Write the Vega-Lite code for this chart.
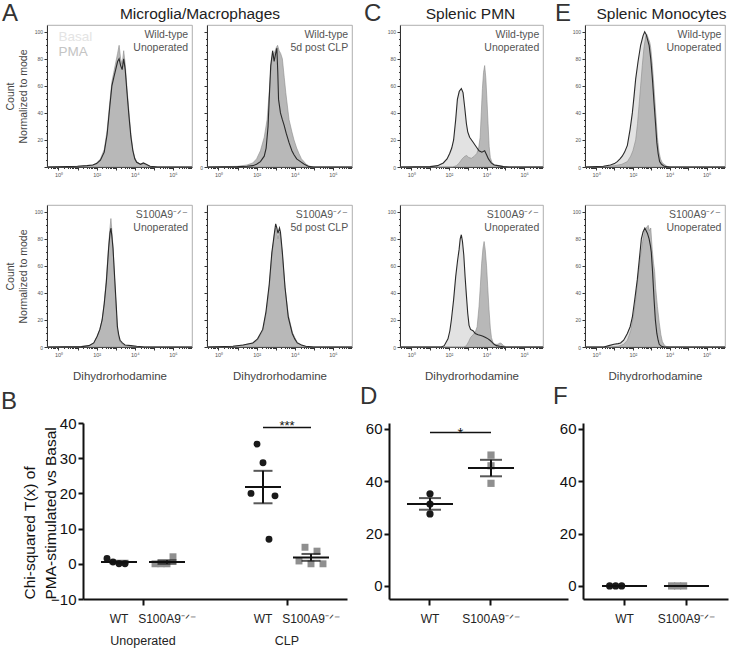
{
"$schema": "https://vega.github.io/schema/vega-lite/v6.json",
"padding": {"left": 1, "top": 1, "right": 2, "bottom": 2},
"bounds": "full",
"spacing": 1,
"config": {
  "font": "Liberation Sans",
  "axis": {"grid": false, "labelFont": "Liberation Sans", "titleFont": "Liberation Sans", "titleFontWeight": "normal"},
  "view": {"stroke": "#9a9a9a", "strokeWidth": 0.8},
  "title": {"font": "Liberation Sans", "fontWeight": "normal", "color": "#333"},
  "text": {"font": "Liberation Sans"}
},
"datasets": {
"ann": [
  {"p":"A1","t":"Wild-type\nUnoperated"},
  {"p":"A2","t":"Wild-type\n5d post CLP"},
  {"p":"C1","t":"Wild-type\nUnoperated"},
  {"p":"E1","t":"Wild-type\nUnoperated"},
  {"p":"A3","t":"S100A9⁻ᐟ⁻\nUnoperated"},
  {"p":"A4","t":"S100A9⁻ᐟ⁻\n5d post CLP"},
  {"p":"C2","t":"S100A9⁻ᐟ⁻\nUnoperated"},
  {"p":"E2","t":"S100A9⁻ᐟ⁻\nUnoperated"}
],
"leg": [{"s":"B","t":"Basal"},{"s":"P","t":"PMA"}],
"dots": [
  {"panel":"B","grp":"U-WT","geno":"WT","rep":1,"v":1.5},
  {"panel":"B","grp":"U-WT","geno":"WT","rep":2,"v":0.5},
  {"panel":"B","grp":"U-WT","geno":"WT","rep":3,"v":0},
  {"panel":"B","grp":"U-WT","geno":"WT","rep":4,"v":0},
  {"panel":"B","grp":"U-KO","geno":"KO","rep":1,"v":0},
  {"panel":"B","grp":"U-KO","geno":"KO","rep":2,"v":0},
  {"panel":"B","grp":"U-KO","geno":"KO","rep":3,"v":0},
  {"panel":"B","grp":"U-KO","geno":"KO","rep":4,"v":2},
  {"panel":"B","grp":"CLP-WT","geno":"WT","rep":1,"v":20},
  {"panel":"B","grp":"CLP-WT","geno":"WT","rep":2,"v":34},
  {"panel":"B","grp":"CLP-WT","geno":"WT","rep":3,"v":28.7},
  {"panel":"B","grp":"CLP-WT","geno":"WT","rep":4,"v":7},
  {"panel":"B","grp":"CLP-WT","geno":"WT","rep":5,"v":19.3},
  {"panel":"B","grp":"CLP-KO","geno":"KO","rep":1,"v":0.8},
  {"panel":"B","grp":"CLP-KO","geno":"KO","rep":2,"v":4.7},
  {"panel":"B","grp":"CLP-KO","geno":"KO","rep":3,"v":0},
  {"panel":"B","grp":"CLP-KO","geno":"KO","rep":4,"v":3.6},
  {"panel":"B","grp":"CLP-KO","geno":"KO","rep":5,"v":0},
  {"panel":"D","grp":"WT","geno":"WT","rep":1,"v":27.5},
  {"panel":"D","grp":"WT","geno":"WT","rep":2,"v":35.2},
  {"panel":"D","grp":"WT","geno":"WT","rep":3,"v":31.3},
  {"panel":"D","grp":"KO","geno":"KO","rep":1,"v":50},
  {"panel":"D","grp":"KO","geno":"KO","rep":2,"v":45.9},
  {"panel":"D","grp":"KO","geno":"KO","rep":3,"v":39.2},
  {"panel":"F","grp":"WT","geno":"WT","rep":1,"v":0},
  {"panel":"F","grp":"WT","geno":"WT","rep":2,"v":0},
  {"panel":"F","grp":"WT","geno":"WT","rep":3,"v":0},
  {"panel":"F","grp":"KO","geno":"KO","rep":1,"v":0},
  {"panel":"F","grp":"KO","geno":"KO","rep":2,"v":0},
  {"panel":"F","grp":"KO","geno":"KO","rep":3,"v":0}
],
"sig": [
  {"panel":"B","from":"CLP-WT","to":"CLP-KO","mid":"CLP","sig":"***"},
  {"panel":"D","from":"WT","to":"KO","mid":"WT","sig":"*"}
],
"hist": [
{"p":"A1","s":"B","x":-0.6,"y":0},{"p":"A1","s":"B","x":0.5,"y":0.3},{"p":"A1","s":"B","x":1.0,"y":0.5},{"p":"A1","s":"B","x":1.5,"y":1},{"p":"A1","s":"B","x":1.8,"y":1.5},{"p":"A1","s":"B","x":2.0,"y":2.5},{"p":"A1","s":"B","x":2.2,"y":5},{"p":"A1","s":"B","x":2.4,"y":11},{"p":"A1","s":"B","x":2.55,"y":24},{"p":"A1","s":"B","x":2.7,"y":46},{"p":"A1","s":"B","x":2.8,"y":60},{"p":"A1","s":"B","x":2.9,"y":66},{"p":"A1","s":"B","x":3.0,"y":72},{"p":"A1","s":"B","x":3.1,"y":78},{"p":"A1","s":"B","x":3.18,"y":80},{"p":"A1","s":"B","x":3.26,"y":75},{"p":"A1","s":"B","x":3.34,"y":72},{"p":"A1","s":"B","x":3.42,"y":80},{"p":"A1","s":"B","x":3.5,"y":72},{"p":"A1","s":"B","x":3.6,"y":54},{"p":"A1","s":"B","x":3.7,"y":37},{"p":"A1","s":"B","x":3.8,"y":22},{"p":"A1","s":"B","x":3.9,"y":12},{"p":"A1","s":"B","x":4.0,"y":6},{"p":"A1","s":"B","x":4.1,"y":3.5},{"p":"A1","s":"B","x":4.3,"y":2},{"p":"A1","s":"B","x":4.45,"y":3},{"p":"A1","s":"B","x":4.6,"y":2},{"p":"A1","s":"B","x":4.8,"y":0.5},{"p":"A1","s":"B","x":5.2,"y":0},{"p":"A1","s":"B","x":7,"y":0},
{"p":"A1","s":"P","x":-0.6,"y":0},{"p":"A1","s":"P","x":0.5,"y":0.3},{"p":"A1","s":"P","x":1.0,"y":0.5},{"p":"A1","s":"P","x":1.5,"y":1},{"p":"A1","s":"P","x":1.8,"y":1.5},{"p":"A1","s":"P","x":2.0,"y":3},{"p":"A1","s":"P","x":2.2,"y":6},{"p":"A1","s":"P","x":2.4,"y":13},{"p":"A1","s":"P","x":2.55,"y":27},{"p":"A1","s":"P","x":2.7,"y":49},{"p":"A1","s":"P","x":2.8,"y":63},{"p":"A1","s":"P","x":2.9,"y":70},{"p":"A1","s":"P","x":3.0,"y":77},{"p":"A1","s":"P","x":3.1,"y":84},{"p":"A1","s":"P","x":3.18,"y":90},{"p":"A1","s":"P","x":3.26,"y":80},{"p":"A1","s":"P","x":3.34,"y":76},{"p":"A1","s":"P","x":3.42,"y":86},{"p":"A1","s":"P","x":3.5,"y":76},{"p":"A1","s":"P","x":3.6,"y":57},{"p":"A1","s":"P","x":3.7,"y":40},{"p":"A1","s":"P","x":3.8,"y":24},{"p":"A1","s":"P","x":3.9,"y":13},{"p":"A1","s":"P","x":4.0,"y":7},{"p":"A1","s":"P","x":4.1,"y":4},{"p":"A1","s":"P","x":4.3,"y":2},{"p":"A1","s":"P","x":4.45,"y":2.5},{"p":"A1","s":"P","x":4.6,"y":1.5},{"p":"A1","s":"P","x":4.8,"y":0.5},{"p":"A1","s":"P","x":5.2,"y":0},{"p":"A1","s":"P","x":7,"y":0},
{"p":"A2","s":"B","x":-0.6,"y":0},{"p":"A2","s":"B","x":1.0,"y":0.3},{"p":"A2","s":"B","x":1.5,"y":0.6},{"p":"A2","s":"B","x":1.8,"y":1},{"p":"A2","s":"B","x":2.0,"y":2},{"p":"A2","s":"B","x":2.2,"y":4},{"p":"A2","s":"B","x":2.4,"y":8},{"p":"A2","s":"B","x":2.5,"y":14},{"p":"A2","s":"B","x":2.6,"y":30},{"p":"A2","s":"B","x":2.66,"y":50},{"p":"A2","s":"B","x":2.74,"y":75},{"p":"A2","s":"B","x":2.84,"y":86},{"p":"A2","s":"B","x":2.92,"y":78},{"p":"A2","s":"B","x":3.0,"y":84},{"p":"A2","s":"B","x":3.06,"y":88},{"p":"A2","s":"B","x":3.11,"y":70},{"p":"A2","s":"B","x":3.15,"y":50},{"p":"A2","s":"B","x":3.25,"y":40},{"p":"A2","s":"B","x":3.35,"y":35},{"p":"A2","s":"B","x":3.44,"y":31},{"p":"A2","s":"B","x":3.55,"y":25},{"p":"A2","s":"B","x":3.7,"y":18},{"p":"A2","s":"B","x":3.85,"y":12},{"p":"A2","s":"B","x":3.96,"y":9},{"p":"A2","s":"B","x":4.1,"y":6},{"p":"A2","s":"B","x":4.3,"y":4},{"p":"A2","s":"B","x":4.5,"y":2},{"p":"A2","s":"B","x":4.7,"y":0.5},{"p":"A2","s":"B","x":5.0,"y":0},{"p":"A2","s":"B","x":7,"y":0},
{"p":"A2","s":"P","x":-0.6,"y":0},{"p":"A2","s":"P","x":1.0,"y":0.5},{"p":"A2","s":"P","x":1.5,"y":1.5},{"p":"A2","s":"P","x":1.8,"y":3},{"p":"A2","s":"P","x":2.0,"y":6},{"p":"A2","s":"P","x":2.2,"y":12},{"p":"A2","s":"P","x":2.4,"y":22},{"p":"A2","s":"P","x":2.55,"y":35},{"p":"A2","s":"P","x":2.66,"y":55},{"p":"A2","s":"P","x":2.74,"y":70},{"p":"A2","s":"P","x":2.8,"y":80},{"p":"A2","s":"P","x":2.88,"y":84},{"p":"A2","s":"P","x":2.95,"y":85},{"p":"A2","s":"P","x":3.02,"y":88},{"p":"A2","s":"P","x":3.1,"y":90},{"p":"A2","s":"P","x":3.18,"y":86},{"p":"A2","s":"P","x":3.26,"y":84},{"p":"A2","s":"P","x":3.35,"y":80},{"p":"A2","s":"P","x":3.45,"y":66},{"p":"A2","s":"P","x":3.53,"y":55},{"p":"A2","s":"P","x":3.7,"y":35},{"p":"A2","s":"P","x":3.85,"y":26},{"p":"A2","s":"P","x":3.96,"y":20},{"p":"A2","s":"P","x":4.1,"y":14},{"p":"A2","s":"P","x":4.22,"y":10},{"p":"A2","s":"P","x":4.35,"y":6},{"p":"A2","s":"P","x":4.48,"y":4},{"p":"A2","s":"P","x":4.6,"y":2},{"p":"A2","s":"P","x":4.74,"y":1},{"p":"A2","s":"P","x":4.9,"y":0},{"p":"A2","s":"P","x":7,"y":0},
{"p":"C1","s":"B","x":-0.6,"y":0},{"p":"C1","s":"B","x":1.0,"y":0.3},{"p":"C1","s":"B","x":1.4,"y":1},{"p":"C1","s":"B","x":1.7,"y":3},{"p":"C1","s":"B","x":1.9,"y":6},{"p":"C1","s":"B","x":2.04,"y":10},{"p":"C1","s":"B","x":2.15,"y":14},{"p":"C1","s":"B","x":2.25,"y":20},{"p":"C1","s":"B","x":2.36,"y":35},{"p":"C1","s":"B","x":2.45,"y":50},{"p":"C1","s":"B","x":2.55,"y":56},{"p":"C1","s":"B","x":2.66,"y":58},{"p":"C1","s":"B","x":2.75,"y":55},{"p":"C1","s":"B","x":2.84,"y":44},{"p":"C1","s":"B","x":2.93,"y":32},{"p":"C1","s":"B","x":3.0,"y":26},{"p":"C1","s":"B","x":3.1,"y":22},{"p":"C1","s":"B","x":3.25,"y":19},{"p":"C1","s":"B","x":3.45,"y":15},{"p":"C1","s":"B","x":3.6,"y":12},{"p":"C1","s":"B","x":3.75,"y":11},{"p":"C1","s":"B","x":3.9,"y":12},{"p":"C1","s":"B","x":4.0,"y":9},{"p":"C1","s":"B","x":4.1,"y":6},{"p":"C1","s":"B","x":4.25,"y":3},{"p":"C1","s":"B","x":4.4,"y":1.5},{"p":"C1","s":"B","x":4.6,"y":1},{"p":"C1","s":"B","x":4.9,"y":0.3},{"p":"C1","s":"B","x":5.2,"y":0},{"p":"C1","s":"B","x":7,"y":0},
{"p":"C1","s":"P","x":-0.6,"y":0},{"p":"C1","s":"P","x":2.2,"y":0},{"p":"C1","s":"P","x":2.4,"y":1},{"p":"C1","s":"P","x":2.55,"y":3},{"p":"C1","s":"P","x":2.7,"y":6},{"p":"C1","s":"P","x":2.85,"y":8},{"p":"C1","s":"P","x":2.95,"y":8.5},{"p":"C1","s":"P","x":3.05,"y":7},{"p":"C1","s":"P","x":3.2,"y":6.5},{"p":"C1","s":"P","x":3.35,"y":8},{"p":"C1","s":"P","x":3.48,"y":10},{"p":"C1","s":"P","x":3.58,"y":14},{"p":"C1","s":"P","x":3.66,"y":22},{"p":"C1","s":"P","x":3.72,"y":40},{"p":"C1","s":"P","x":3.78,"y":58},{"p":"C1","s":"P","x":3.84,"y":70},{"p":"C1","s":"P","x":3.9,"y":75},{"p":"C1","s":"P","x":3.96,"y":66},{"p":"C1","s":"P","x":4.02,"y":50},{"p":"C1","s":"P","x":4.08,"y":32},{"p":"C1","s":"P","x":4.14,"y":15},{"p":"C1","s":"P","x":4.2,"y":7},{"p":"C1","s":"P","x":4.3,"y":3},{"p":"C1","s":"P","x":4.45,"y":1.5},{"p":"C1","s":"P","x":4.7,"y":1},{"p":"C1","s":"P","x":4.9,"y":0.3},{"p":"C1","s":"P","x":5.1,"y":0},{"p":"C1","s":"P","x":7,"y":0},
{"p":"E1","s":"B","x":-0.6,"y":0},{"p":"E1","s":"B","x":0.4,"y":0.5},{"p":"E1","s":"B","x":0.78,"y":1.5},{"p":"E1","s":"B","x":1.0,"y":2.5},{"p":"E1","s":"B","x":1.15,"y":4},{"p":"E1","s":"B","x":1.3,"y":6},{"p":"E1","s":"B","x":1.42,"y":8},{"p":"E1","s":"B","x":1.55,"y":11},{"p":"E1","s":"B","x":1.7,"y":16},{"p":"E1","s":"B","x":1.85,"y":28},{"p":"E1","s":"B","x":1.97,"y":40},{"p":"E1","s":"B","x":2.06,"y":52},{"p":"E1","s":"B","x":2.15,"y":65},{"p":"E1","s":"B","x":2.28,"y":78},{"p":"E1","s":"B","x":2.42,"y":90},{"p":"E1","s":"B","x":2.55,"y":97},{"p":"E1","s":"B","x":2.64,"y":100},{"p":"E1","s":"B","x":2.72,"y":98},{"p":"E1","s":"B","x":2.8,"y":94},{"p":"E1","s":"B","x":2.88,"y":90},{"p":"E1","s":"B","x":2.97,"y":80},{"p":"E1","s":"B","x":3.06,"y":65},{"p":"E1","s":"B","x":3.15,"y":47},{"p":"E1","s":"B","x":3.24,"y":30},{"p":"E1","s":"B","x":3.3,"y":18},{"p":"E1","s":"B","x":3.37,"y":10},{"p":"E1","s":"B","x":3.45,"y":4},{"p":"E1","s":"B","x":3.55,"y":2},{"p":"E1","s":"B","x":3.7,"y":0.5},{"p":"E1","s":"B","x":4.0,"y":0},{"p":"E1","s":"B","x":7,"y":0},
{"p":"E1","s":"P","x":-0.6,"y":0},{"p":"E1","s":"P","x":0.6,"y":0.5},{"p":"E1","s":"P","x":1.0,"y":1},{"p":"E1","s":"P","x":1.4,"y":2},{"p":"E1","s":"P","x":1.7,"y":4},{"p":"E1","s":"P","x":1.88,"y":8},{"p":"E1","s":"P","x":2.0,"y":12},{"p":"E1","s":"P","x":2.15,"y":20},{"p":"E1","s":"P","x":2.25,"y":32},{"p":"E1","s":"P","x":2.33,"y":45},{"p":"E1","s":"P","x":2.42,"y":60},{"p":"E1","s":"P","x":2.51,"y":75},{"p":"E1","s":"P","x":2.6,"y":88},{"p":"E1","s":"P","x":2.7,"y":97},{"p":"E1","s":"P","x":2.76,"y":98},{"p":"E1","s":"P","x":2.84,"y":95},{"p":"E1","s":"P","x":2.92,"y":92},{"p":"E1","s":"P","x":2.97,"y":88},{"p":"E1","s":"P","x":3.06,"y":75},{"p":"E1","s":"P","x":3.15,"y":58},{"p":"E1","s":"P","x":3.24,"y":40},{"p":"E1","s":"P","x":3.33,"y":22},{"p":"E1","s":"P","x":3.42,"y":11},{"p":"E1","s":"P","x":3.5,"y":6},{"p":"E1","s":"P","x":3.6,"y":3},{"p":"E1","s":"P","x":3.7,"y":2},{"p":"E1","s":"P","x":3.85,"y":0.5},{"p":"E1","s":"P","x":4.1,"y":0},{"p":"E1","s":"P","x":7,"y":0},
{"p":"A3","s":"B","x":-0.6,"y":0},{"p":"A3","s":"B","x":1.2,"y":0.3},{"p":"A3","s":"B","x":1.6,"y":1},{"p":"A3","s":"B","x":1.85,"y":3},{"p":"A3","s":"B","x":2.03,"y":8},{"p":"A3","s":"B","x":2.17,"y":13},{"p":"A3","s":"B","x":2.29,"y":20},{"p":"A3","s":"B","x":2.4,"y":32},{"p":"A3","s":"B","x":2.51,"y":48},{"p":"A3","s":"B","x":2.63,"y":73},{"p":"A3","s":"B","x":2.7,"y":84},{"p":"A3","s":"B","x":2.75,"y":88},{"p":"A3","s":"B","x":2.8,"y":82},{"p":"A3","s":"B","x":2.86,"y":73},{"p":"A3","s":"B","x":2.92,"y":58},{"p":"A3","s":"B","x":2.98,"y":43},{"p":"A3","s":"B","x":3.04,"y":28},{"p":"A3","s":"B","x":3.09,"y":15},{"p":"A3","s":"B","x":3.16,"y":9},{"p":"A3","s":"B","x":3.23,"y":5},{"p":"A3","s":"B","x":3.35,"y":3},{"p":"A3","s":"B","x":3.49,"y":1.5},{"p":"A3","s":"B","x":3.8,"y":1},{"p":"A3","s":"B","x":4.1,"y":0.5},{"p":"A3","s":"B","x":4.5,"y":0},{"p":"A3","s":"B","x":7,"y":0},
{"p":"A3","s":"P","x":-0.6,"y":0},{"p":"A3","s":"P","x":1.2,"y":0.3},{"p":"A3","s":"P","x":1.6,"y":1},{"p":"A3","s":"P","x":1.85,"y":3},{"p":"A3","s":"P","x":2.03,"y":8},{"p":"A3","s":"P","x":2.17,"y":13},{"p":"A3","s":"P","x":2.29,"y":20},{"p":"A3","s":"P","x":2.4,"y":33},{"p":"A3","s":"P","x":2.51,"y":50},{"p":"A3","s":"P","x":2.63,"y":75},{"p":"A3","s":"P","x":2.7,"y":88},{"p":"A3","s":"P","x":2.75,"y":95},{"p":"A3","s":"P","x":2.8,"y":86},{"p":"A3","s":"P","x":2.86,"y":74},{"p":"A3","s":"P","x":2.92,"y":56},{"p":"A3","s":"P","x":2.98,"y":40},{"p":"A3","s":"P","x":3.04,"y":25},{"p":"A3","s":"P","x":3.09,"y":13},{"p":"A3","s":"P","x":3.16,"y":7},{"p":"A3","s":"P","x":3.23,"y":4},{"p":"A3","s":"P","x":3.35,"y":2},{"p":"A3","s":"P","x":3.49,"y":1},{"p":"A3","s":"P","x":3.8,"y":0.5},{"p":"A3","s":"P","x":4.1,"y":0.3},{"p":"A3","s":"P","x":4.5,"y":0},{"p":"A3","s":"P","x":7,"y":0},
{"p":"A4","s":"B","x":-0.6,"y":0},{"p":"A4","s":"B","x":0.76,"y":0.5},{"p":"A4","s":"B","x":1.3,"y":1.5},{"p":"A4","s":"B","x":1.8,"y":3},{"p":"A4","s":"B","x":2.05,"y":6},{"p":"A4","s":"B","x":2.32,"y":13},{"p":"A4","s":"B","x":2.49,"y":26},{"p":"A4","s":"B","x":2.66,"y":46},{"p":"A4","s":"B","x":2.8,"y":70},{"p":"A4","s":"B","x":2.94,"y":85},{"p":"A4","s":"B","x":3.0,"y":91},{"p":"A4","s":"B","x":3.06,"y":88},{"p":"A4","s":"B","x":3.12,"y":84},{"p":"A4","s":"B","x":3.2,"y":88},{"p":"A4","s":"B","x":3.25,"y":85},{"p":"A4","s":"B","x":3.35,"y":70},{"p":"A4","s":"B","x":3.49,"y":44},{"p":"A4","s":"B","x":3.66,"y":22},{"p":"A4","s":"B","x":3.87,"y":10},{"p":"A4","s":"B","x":4.0,"y":6},{"p":"A4","s":"B","x":4.13,"y":3},{"p":"A4","s":"B","x":4.35,"y":1.5},{"p":"A4","s":"B","x":4.57,"y":0.5},{"p":"A4","s":"B","x":5.0,"y":0},{"p":"A4","s":"B","x":7,"y":0},
{"p":"A4","s":"P","x":-0.6,"y":0},{"p":"A4","s":"P","x":0.76,"y":0.5},{"p":"A4","s":"P","x":1.3,"y":1.5},{"p":"A4","s":"P","x":1.8,"y":3},{"p":"A4","s":"P","x":2.05,"y":5},{"p":"A4","s":"P","x":2.32,"y":12},{"p":"A4","s":"P","x":2.49,"y":24},{"p":"A4","s":"P","x":2.66,"y":44},{"p":"A4","s":"P","x":2.8,"y":68},{"p":"A4","s":"P","x":2.94,"y":84},{"p":"A4","s":"P","x":3.0,"y":88},{"p":"A4","s":"P","x":3.06,"y":84},{"p":"A4","s":"P","x":3.12,"y":80},{"p":"A4","s":"P","x":3.2,"y":85},{"p":"A4","s":"P","x":3.25,"y":82},{"p":"A4","s":"P","x":3.35,"y":68},{"p":"A4","s":"P","x":3.49,"y":44},{"p":"A4","s":"P","x":3.66,"y":24},{"p":"A4","s":"P","x":3.87,"y":11},{"p":"A4","s":"P","x":4.0,"y":7},{"p":"A4","s":"P","x":4.13,"y":3.5},{"p":"A4","s":"P","x":4.35,"y":1.5},{"p":"A4","s":"P","x":4.57,"y":0.5},{"p":"A4","s":"P","x":5.0,"y":0},{"p":"A4","s":"P","x":7,"y":0},
{"p":"C2","s":"B","x":-0.6,"y":0},{"p":"C2","s":"B","x":1.6,"y":0},{"p":"C2","s":"B","x":1.75,"y":1},{"p":"C2","s":"B","x":1.95,"y":6},{"p":"C2","s":"B","x":2.05,"y":12},{"p":"C2","s":"B","x":2.13,"y":20},{"p":"C2","s":"B","x":2.25,"y":35},{"p":"C2","s":"B","x":2.36,"y":52},{"p":"C2","s":"B","x":2.46,"y":64},{"p":"C2","s":"B","x":2.54,"y":72},{"p":"C2","s":"B","x":2.6,"y":80},{"p":"C2","s":"B","x":2.66,"y":83},{"p":"C2","s":"B","x":2.72,"y":78},{"p":"C2","s":"B","x":2.79,"y":68},{"p":"C2","s":"B","x":2.86,"y":52},{"p":"C2","s":"B","x":2.93,"y":38},{"p":"C2","s":"B","x":3.0,"y":25},{"p":"C2","s":"B","x":3.07,"y":16},{"p":"C2","s":"B","x":3.15,"y":13},{"p":"C2","s":"B","x":3.28,"y":12},{"p":"C2","s":"B","x":3.4,"y":10},{"p":"C2","s":"B","x":3.55,"y":9},{"p":"C2","s":"B","x":3.7,"y":8.5},{"p":"C2","s":"B","x":3.81,"y":8},{"p":"C2","s":"B","x":3.95,"y":7},{"p":"C2","s":"B","x":4.08,"y":6},{"p":"C2","s":"B","x":4.18,"y":5},{"p":"C2","s":"B","x":4.26,"y":4},{"p":"C2","s":"B","x":4.4,"y":2},{"p":"C2","s":"B","x":4.52,"y":1},{"p":"C2","s":"B","x":4.7,"y":0.5},{"p":"C2","s":"B","x":5.0,"y":0},{"p":"C2","s":"B","x":7,"y":0},
{"p":"C2","s":"P","x":-0.6,"y":0},{"p":"C2","s":"P","x":2.8,"y":0},{"p":"C2","s":"P","x":2.93,"y":1},{"p":"C2","s":"P","x":3.05,"y":4},{"p":"C2","s":"P","x":3.15,"y":7},{"p":"C2","s":"P","x":3.28,"y":9},{"p":"C2","s":"P","x":3.4,"y":11},{"p":"C2","s":"P","x":3.5,"y":15},{"p":"C2","s":"P","x":3.6,"y":30},{"p":"C2","s":"P","x":3.67,"y":45},{"p":"C2","s":"P","x":3.74,"y":62},{"p":"C2","s":"P","x":3.81,"y":73},{"p":"C2","s":"P","x":3.87,"y":78},{"p":"C2","s":"P","x":3.93,"y":72},{"p":"C2","s":"P","x":4.0,"y":60},{"p":"C2","s":"P","x":4.06,"y":45},{"p":"C2","s":"P","x":4.13,"y":28},{"p":"C2","s":"P","x":4.2,"y":14},{"p":"C2","s":"P","x":4.26,"y":7},{"p":"C2","s":"P","x":4.35,"y":3},{"p":"C2","s":"P","x":4.44,"y":2},{"p":"C2","s":"P","x":4.6,"y":2},{"p":"C2","s":"P","x":4.72,"y":3},{"p":"C2","s":"P","x":4.8,"y":2.5},{"p":"C2","s":"P","x":4.9,"y":1},{"p":"C2","s":"P","x":5.05,"y":0},{"p":"C2","s":"P","x":7,"y":0},
{"p":"E2","s":"B","x":-0.6,"y":0},{"p":"E2","s":"B","x":0.42,"y":0},{"p":"E2","s":"B","x":0.7,"y":1},{"p":"E2","s":"B","x":0.97,"y":2},{"p":"E2","s":"B","x":1.2,"y":2.5},{"p":"E2","s":"B","x":1.33,"y":3},{"p":"E2","s":"B","x":1.5,"y":5},{"p":"E2","s":"B","x":1.7,"y":10},{"p":"E2","s":"B","x":1.85,"y":15},{"p":"E2","s":"B","x":1.97,"y":22},{"p":"E2","s":"B","x":2.1,"y":35},{"p":"E2","s":"B","x":2.24,"y":50},{"p":"E2","s":"B","x":2.35,"y":65},{"p":"E2","s":"B","x":2.46,"y":80},{"p":"E2","s":"B","x":2.55,"y":85},{"p":"E2","s":"B","x":2.65,"y":88},{"p":"E2","s":"B","x":2.72,"y":86},{"p":"E2","s":"B","x":2.79,"y":84},{"p":"E2","s":"B","x":2.88,"y":80},{"p":"E2","s":"B","x":2.95,"y":75},{"p":"E2","s":"B","x":3.0,"y":70},{"p":"E2","s":"B","x":3.07,"y":55},{"p":"E2","s":"B","x":3.15,"y":35},{"p":"E2","s":"B","x":3.22,"y":20},{"p":"E2","s":"B","x":3.3,"y":10},{"p":"E2","s":"B","x":3.37,"y":5},{"p":"E2","s":"B","x":3.43,"y":2},{"p":"E2","s":"B","x":3.55,"y":0.5},{"p":"E2","s":"B","x":3.7,"y":0},{"p":"E2","s":"B","x":7,"y":0},
{"p":"E2","s":"P","x":-0.6,"y":0},{"p":"E2","s":"P","x":0.8,"y":0},{"p":"E2","s":"P","x":1.2,"y":0.5},{"p":"E2","s":"P","x":1.5,"y":2},{"p":"E2","s":"P","x":1.7,"y":5},{"p":"E2","s":"P","x":1.88,"y":12},{"p":"E2","s":"P","x":2.02,"y":22},{"p":"E2","s":"P","x":2.15,"y":35},{"p":"E2","s":"P","x":2.28,"y":52},{"p":"E2","s":"P","x":2.42,"y":68},{"p":"E2","s":"P","x":2.53,"y":78},{"p":"E2","s":"P","x":2.64,"y":86},{"p":"E2","s":"P","x":2.72,"y":88},{"p":"E2","s":"P","x":2.83,"y":90},{"p":"E2","s":"P","x":2.9,"y":86},{"p":"E2","s":"P","x":2.97,"y":88},{"p":"E2","s":"P","x":3.05,"y":72},{"p":"E2","s":"P","x":3.12,"y":62},{"p":"E2","s":"P","x":3.18,"y":56},{"p":"E2","s":"P","x":3.24,"y":43},{"p":"E2","s":"P","x":3.33,"y":30},{"p":"E2","s":"P","x":3.43,"y":18},{"p":"E2","s":"P","x":3.52,"y":9},{"p":"E2","s":"P","x":3.6,"y":4},{"p":"E2","s":"P","x":3.7,"y":1.5},{"p":"E2","s":"P","x":3.79,"y":0.5},{"p":"E2","s":"P","x":4.0,"y":0},{"p":"E2","s":"P","x":7,"y":0}
]
},
"vconcat": [
 {"bounds": "full", "spacing": 24, "vconcat": [
  {"bounds": "full", "spacing": 8, "hconcat": [
   {"bounds": "flush", "spacing": 15, "hconcat": [
    {"width": 145, "height": 142,
     "title": {"text": "A", "anchor": "start", "frame": "group", "dx": -45, "fontSize": 24, "baseline": "alphabetic", "offset": -39},
     "layer": [
      {"data": {"name": "hist"}, "transform": [{"filter": "datum.p == 'A1' && datum.s == 'B'"}], "mark": {"type": "area", "color": "#e2e2e2"},
       "encoding": {"x": {"field": "x", "type": "quantitative", "scale": {"domain": [-0.6, 7], "nice": false, "zero": false}, "axis": {"orient": "bottom", "values": [0,1,2,3,4,5,6], "labelExpr": "datum.value % 2 == 0 ? '10' + ['⁰','¹','²','³','⁴','⁵','⁶'][datum.value] : ''", "labelFontSize": 5.5, "labelColor": "#555", "labelPadding": 2, "labelOverlap": false, "labelFlush": false, "tickSize": 3, "tickColor": "#333", "domainColor": "#333", "title": null}},
                    "y": {"field": "y", "type": "quantitative", "scale": {"domain": [0, 105], "nice": false}, "axis": {"orient": "left", "values": [0,20,40,60,80,100], "labelExpr": "datum.value == 0 ? '' : datum.label", "labelFontSize": 5, "labelColor": "#555", "labelPadding": 1.5, "labelOverlap": false, "tickSize": 3, "tickColor": "#333", "domainColor": "#333", "title": ["Count", "Normalized to mode"], "titleFontSize": 10.5, "titleColor": "#444", "titleLineHeight": 13, "titlePadding": 6}}}},
      {"data": {"name": "hist"}, "transform": [{"filter": "datum.p == 'A1' && datum.s == 'P'"}], "mark": {"type": "area", "color": "#b8b8b8", "stroke": "#8c8c8c", "strokeWidth": 0.6},
       "encoding": {"x": {"field": "x", "type": "quantitative", "axis": {"orient": "bottom", "values": [-0.523,-0.398,-0.301,-0.222,-0.155,-0.097,-0.046,0.301,0.477,0.602,0.699,0.778,0.845,0.903,0.954,1.301,1.477,1.602,1.699,1.778,1.845,1.903,1.954,2.301,2.477,2.602,2.699,2.778,2.845,2.903,2.954,3.301,3.477,3.602,3.699,3.778,3.845,3.903,3.954,4.301,4.477,4.602,4.699,4.778,4.845,4.903,4.954,5.301,5.477,5.602,5.699,5.778,5.845,5.903,5.954,6.301,6.477,6.602,6.699,6.778,6.845,6.903,6.954], "labels": false, "domain": false, "tickSize": 1.5, "tickColor": "#333", "title": null}},
                    "y": {"field": "y", "type": "quantitative", "axis": {"orient": "left", "values": [5,10,15,25,30,35,45,50,55,65,70,75,85,90,95], "labels": false, "domain": false, "tickSize": 1.5, "tickColor": "#333", "title": null}}}},
      {"data": {"name": "hist"}, "transform": [{"filter": "datum.p == 'A1' && datum.s == 'B'"}], "mark": {"type": "line", "color": "#2a2a2a", "strokeWidth": 1.1},
       "encoding": {"x": {"field": "x", "type": "quantitative", "axis": {"orient": "top", "domain": false, "ticks": false, "labels": false, "title": "Microglia/Macrophages", "titleFontSize": 15.5, "titleColor": "#222", "titlePadding": 4, "titleX": 152.5, "titleAlign": "center"}},
                    "y": {"field": "y", "type": "quantitative", "axis": null}}},
      {"data": {"name": "ann"}, "transform": [{"filter": "datum.p == 'A1'"}], "mark": {"type": "text", "align": "right", "baseline": "top", "fontSize": 10.5, "color": "#555", "lineBreak": "\n", "lineHeight": 13},
       "encoding": {"x": {"datum": 6.8, "type": "quantitative", "axis": null}, "y": {"datum": 101, "type": "quantitative", "axis": null}, "text": {"field": "t"}}},
      {"data": {"name": "leg"}, "transform": [{"filter": "datum.s == 'B'"}], "mark": {"type": "text", "align": "left", "baseline": "top", "fontSize": 13.5, "color": "#e4e4e4"},
       "encoding": {"x": {"datum": 0.0, "type": "quantitative", "axis": null}, "y": {"datum": 101, "type": "quantitative", "axis": null}, "text": {"field": "t"}}},
      {"data": {"name": "leg"}, "transform": [{"filter": "datum.s == 'P'"}], "mark": {"type": "text", "align": "left", "baseline": "top", "fontSize": 13.5, "color": "#c4c4c4"},
       "encoding": {"x": {"datum": 0.0, "type": "quantitative", "axis": null}, "y": {"datum": 90, "type": "quantitative", "axis": null}, "text": {"field": "t"}}}
     ],
     "resolve": {"axis": {"x": "independent", "y": "independent"}}},
    {"width": 145, "height": 142,
     "layer": [
      {"data": {"name": "hist"}, "transform": [{"filter": "datum.p == 'A2' && datum.s == 'B'"}], "mark": {"type": "area", "color": "#e2e2e2"},
       "encoding": {"x": {"field": "x", "type": "quantitative", "scale": {"domain": [-0.6, 7], "nice": false, "zero": false}, "axis": {"orient": "bottom", "values": [0,1,2,3,4,5,6], "labelExpr": "datum.value % 2 == 0 ? '10' + ['⁰','¹','²','³','⁴','⁵','⁶'][datum.value] : ''", "labelFontSize": 5.5, "labelColor": "#555", "labelPadding": 2, "labelOverlap": false, "labelFlush": false, "tickSize": 3, "tickColor": "#333", "domainColor": "#333", "title": null}},
                    "y": {"field": "y", "type": "quantitative", "scale": {"domain": [0, 105], "nice": false}, "axis": {"orient": "left", "values": [0,20,40,60,80,100], "labelExpr": "datum.value == 0 ? '0' : ''", "labelFontSize": 5, "labelColor": "#555", "labelPadding": 1.5, "labelOverlap": false, "tickSize": 3, "tickColor": "#333", "domainColor": "#333", "title": null}}}},
      {"data": {"name": "hist"}, "transform": [{"filter": "datum.p == 'A2' && datum.s == 'P'"}], "mark": {"type": "area", "color": "#b8b8b8", "stroke": "#8c8c8c", "strokeWidth": 0.6},
       "encoding": {"x": {"field": "x", "type": "quantitative", "axis": {"orient": "bottom", "values": [-0.523,-0.398,-0.301,-0.222,-0.155,-0.097,-0.046,0.301,0.477,0.602,0.699,0.778,0.845,0.903,0.954,1.301,1.477,1.602,1.699,1.778,1.845,1.903,1.954,2.301,2.477,2.602,2.699,2.778,2.845,2.903,2.954,3.301,3.477,3.602,3.699,3.778,3.845,3.903,3.954,4.301,4.477,4.602,4.699,4.778,4.845,4.903,4.954,5.301,5.477,5.602,5.699,5.778,5.845,5.903,5.954,6.301,6.477,6.602,6.699,6.778,6.845,6.903,6.954], "labels": false, "domain": false, "tickSize": 1.5, "tickColor": "#333", "title": null}},
                    "y": {"field": "y", "type": "quantitative", "axis": {"orient": "left", "values": [5,10,15,25,30,35,45,50,55,65,70,75,85,90,95], "labels": false, "domain": false, "tickSize": 1.5, "tickColor": "#333", "title": null}}}},
      {"data": {"name": "hist"}, "transform": [{"filter": "datum.p == 'A2' && datum.s == 'B'"}], "mark": {"type": "line", "color": "#2a2a2a", "strokeWidth": 1.1},
       "encoding": {"x": {"field": "x", "type": "quantitative", "axis": null}, "y": {"field": "y", "type": "quantitative", "axis": null}}},
      {"data": {"name": "ann"}, "transform": [{"filter": "datum.p == 'A2'"}], "mark": {"type": "text", "align": "right", "baseline": "top", "fontSize": 10.5, "color": "#555", "lineBreak": "\n", "lineHeight": 13},
       "encoding": {"x": {"datum": 6.8, "type": "quantitative", "axis": null}, "y": {"datum": 101, "type": "quantitative", "axis": null}, "text": {"field": "t"}}}
     ],
     "resolve": {"axis": {"x": "independent", "y": "independent"}}}
   ]},
   {"width": 143, "height": 142,
    "title": {"text": "C", "anchor": "start", "frame": "group", "dx": -36, "fontSize": 24, "baseline": "alphabetic", "offset": -39},
    "layer": [
      {"data": {"name": "hist"}, "transform": [{"filter": "datum.p == 'C1' && datum.s == 'B'"}], "mark": {"type": "area", "color": "#e2e2e2"},
       "encoding": {"x": {"field": "x", "type": "quantitative", "scale": {"domain": [-0.6, 7], "nice": false, "zero": false}, "axis": {"orient": "bottom", "values": [0,1,2,3,4,5,6], "labelExpr": "datum.value % 2 == 0 ? '10' + ['⁰','¹','²','³','⁴','⁵','⁶'][datum.value] : ''", "labelFontSize": 5.5, "labelColor": "#555", "labelPadding": 2, "labelOverlap": false, "labelFlush": false, "tickSize": 3, "tickColor": "#333", "domainColor": "#333", "title": null}},
                    "y": {"field": "y", "type": "quantitative", "scale": {"domain": [0, 105], "nice": false}, "axis": {"orient": "left", "values": [0,20,40,60,80,100], "labelFontSize": 5, "labelColor": "#555", "labelPadding": 1.5, "labelOverlap": false, "tickSize": 3, "tickColor": "#333", "domainColor": "#333", "title": null}}}},
      {"data": {"name": "hist"}, "transform": [{"filter": "datum.p == 'C1' && datum.s == 'P'"}], "mark": {"type": "area", "color": "#b8b8b8", "stroke": "#8c8c8c", "strokeWidth": 0.6},
       "encoding": {"x": {"field": "x", "type": "quantitative", "axis": {"orient": "bottom", "values": [-0.523,-0.398,-0.301,-0.222,-0.155,-0.097,-0.046,0.301,0.477,0.602,0.699,0.778,0.845,0.903,0.954,1.301,1.477,1.602,1.699,1.778,1.845,1.903,1.954,2.301,2.477,2.602,2.699,2.778,2.845,2.903,2.954,3.301,3.477,3.602,3.699,3.778,3.845,3.903,3.954,4.301,4.477,4.602,4.699,4.778,4.845,4.903,4.954,5.301,5.477,5.602,5.699,5.778,5.845,5.903,5.954,6.301,6.477,6.602,6.699,6.778,6.845,6.903,6.954], "labels": false, "domain": false, "tickSize": 1.5, "tickColor": "#333", "title": null}},
                    "y": {"field": "y", "type": "quantitative", "axis": {"orient": "left", "values": [5,10,15,25,30,35,45,50,55,65,70,75,85,90,95], "labels": false, "domain": false, "tickSize": 1.5, "tickColor": "#333", "title": null}}}},
      {"data": {"name": "hist"}, "transform": [{"filter": "datum.p == 'C1' && datum.s == 'B'"}], "mark": {"type": "line", "color": "#2a2a2a", "strokeWidth": 1.1},
       "encoding": {"x": {"field": "x", "type": "quantitative", "axis": {"orient": "top", "domain": false, "ticks": false, "labels": false, "title": "Splenic PMN", "titleFontSize": 15.5, "titleColor": "#222", "titlePadding": 4, "titleX": 70, "titleAlign": "center"}},
                    "y": {"field": "y", "type": "quantitative", "axis": null}}},
      {"data": {"name": "ann"}, "transform": [{"filter": "datum.p == 'C1'"}], "mark": {"type": "text", "align": "right", "baseline": "top", "fontSize": 10.5, "color": "#555", "lineBreak": "\n", "lineHeight": 13},
       "encoding": {"x": {"datum": 6.8, "type": "quantitative", "axis": null}, "y": {"datum": 101, "type": "quantitative", "axis": null}, "text": {"field": "t"}}}
    ],
    "resolve": {"axis": {"x": "independent", "y": "independent"}}},
   {"width": 140, "height": 142,
    "title": {"text": "E", "anchor": "start", "frame": "group", "dx": -30, "fontSize": 24, "baseline": "alphabetic", "offset": -39},
    "layer": [
      {"data": {"name": "hist"}, "transform": [{"filter": "datum.p == 'E1' && datum.s == 'B'"}], "mark": {"type": "area", "color": "#e2e2e2"},
       "encoding": {"x": {"field": "x", "type": "quantitative", "scale": {"domain": [-0.6, 7], "nice": false, "zero": false}, "axis": {"orient": "bottom", "values": [0,1,2,3,4,5,6], "labelExpr": "datum.value % 2 == 0 ? '10' + ['⁰','¹','²','³','⁴','⁵','⁶'][datum.value] : ''", "labelFontSize": 5.5, "labelColor": "#555", "labelPadding": 2, "labelOverlap": false, "labelFlush": false, "tickSize": 3, "tickColor": "#333", "domainColor": "#333", "title": null}},
                    "y": {"field": "y", "type": "quantitative", "scale": {"domain": [0, 105], "nice": false}, "axis": {"orient": "left", "values": [0,20,40,60,80,100], "labelFontSize": 5, "labelColor": "#555", "labelPadding": 1.5, "labelOverlap": false, "tickSize": 3, "tickColor": "#333", "domainColor": "#333", "title": null}}}},
      {"data": {"name": "hist"}, "transform": [{"filter": "datum.p == 'E1' && datum.s == 'P'"}], "mark": {"type": "area", "color": "#b8b8b8", "stroke": "#8c8c8c", "strokeWidth": 0.6},
       "encoding": {"x": {"field": "x", "type": "quantitative", "axis": {"orient": "bottom", "values": [-0.523,-0.398,-0.301,-0.222,-0.155,-0.097,-0.046,0.301,0.477,0.602,0.699,0.778,0.845,0.903,0.954,1.301,1.477,1.602,1.699,1.778,1.845,1.903,1.954,2.301,2.477,2.602,2.699,2.778,2.845,2.903,2.954,3.301,3.477,3.602,3.699,3.778,3.845,3.903,3.954,4.301,4.477,4.602,4.699,4.778,4.845,4.903,4.954,5.301,5.477,5.602,5.699,5.778,5.845,5.903,5.954,6.301,6.477,6.602,6.699,6.778,6.845,6.903,6.954], "labels": false, "domain": false, "tickSize": 1.5, "tickColor": "#333", "title": null}},
                    "y": {"field": "y", "type": "quantitative", "axis": {"orient": "left", "values": [5,10,15,25,30,35,45,50,55,65,70,75,85,90,95], "labels": false, "domain": false, "tickSize": 1.5, "tickColor": "#333", "title": null}}}},
      {"data": {"name": "hist"}, "transform": [{"filter": "datum.p == 'E1' && datum.s == 'B'"}], "mark": {"type": "line", "color": "#2a2a2a", "strokeWidth": 1.1},
       "encoding": {"x": {"field": "x", "type": "quantitative", "axis": {"orient": "top", "domain": false, "ticks": false, "labels": false, "title": "Splenic Monocytes", "titleFontSize": 15.5, "titleColor": "#222", "titlePadding": 4, "titleX": 76, "titleAlign": "center"}},
                    "y": {"field": "y", "type": "quantitative", "axis": null}}},
      {"data": {"name": "ann"}, "transform": [{"filter": "datum.p == 'E1'"}], "mark": {"type": "text", "align": "right", "baseline": "top", "fontSize": 10.5, "color": "#555", "lineBreak": "\n", "lineHeight": 13},
       "encoding": {"x": {"datum": 6.8, "type": "quantitative", "axis": null}, "y": {"datum": 101, "type": "quantitative", "axis": null}, "text": {"field": "t"}}}
    ],
    "resolve": {"axis": {"x": "independent", "y": "independent"}}}
  ]},
  {"bounds": "full", "spacing": 8, "hconcat": [
   {"bounds": "flush", "spacing": 15, "hconcat": [
    {"width": 145, "height": 142,
     "title": {"text": " ", "anchor": "start", "frame": "group", "dx": -45, "fontSize": 2, "offset": 0},
     "layer": [
      {"data": {"name": "hist"}, "transform": [{"filter": "datum.p == 'A3' && datum.s == 'B'"}], "mark": {"type": "area", "color": "#e2e2e2"},
       "encoding": {"x": {"field": "x", "type": "quantitative", "scale": {"domain": [-0.6, 7], "nice": false, "zero": false}, "axis": {"orient": "bottom", "values": [0,1,2,3,4,5,6], "labelExpr": "datum.value % 2 == 0 ? '10' + ['⁰','¹','²','³','⁴','⁵','⁶'][datum.value] : ''", "labelFontSize": 5.5, "labelColor": "#555", "labelPadding": 2, "labelOverlap": false, "labelFlush": false, "tickSize": 3, "tickColor": "#333", "domainColor": "#333", "title": "Dihydrorhodamine", "titleFontSize": 11.5, "titleColor": "#444", "titlePadding": 13}},
                    "y": {"field": "y", "type": "quantitative", "scale": {"domain": [0, 105], "nice": false}, "axis": {"orient": "left", "values": [0,20,40,60,80,100], "labelFontSize": 5, "labelColor": "#555", "labelPadding": 1.5, "labelOverlap": false, "tickSize": 3, "tickColor": "#333", "domainColor": "#333", "title": ["Count", "Normalized to mode"], "titleFontSize": 10.5, "titleColor": "#444", "titleLineHeight": 13, "titlePadding": 6}}}},
      {"data": {"name": "hist"}, "transform": [{"filter": "datum.p == 'A3' && datum.s == 'P'"}], "mark": {"type": "area", "color": "#b8b8b8", "stroke": "#8c8c8c", "strokeWidth": 0.6},
       "encoding": {"x": {"field": "x", "type": "quantitative", "axis": {"orient": "bottom", "values": [-0.523,-0.398,-0.301,-0.222,-0.155,-0.097,-0.046,0.301,0.477,0.602,0.699,0.778,0.845,0.903,0.954,1.301,1.477,1.602,1.699,1.778,1.845,1.903,1.954,2.301,2.477,2.602,2.699,2.778,2.845,2.903,2.954,3.301,3.477,3.602,3.699,3.778,3.845,3.903,3.954,4.301,4.477,4.602,4.699,4.778,4.845,4.903,4.954,5.301,5.477,5.602,5.699,5.778,5.845,5.903,5.954,6.301,6.477,6.602,6.699,6.778,6.845,6.903,6.954], "labels": false, "domain": false, "tickSize": 1.5, "tickColor": "#333", "title": null}},
                    "y": {"field": "y", "type": "quantitative", "axis": {"orient": "left", "values": [5,10,15,25,30,35,45,50,55,65,70,75,85,90,95], "labels": false, "domain": false, "tickSize": 1.5, "tickColor": "#333", "title": null}}}},
      {"data": {"name": "hist"}, "transform": [{"filter": "datum.p == 'A3' && datum.s == 'B'"}], "mark": {"type": "line", "color": "#2a2a2a", "strokeWidth": 1.1},
       "encoding": {"x": {"field": "x", "type": "quantitative", "axis": null}, "y": {"field": "y", "type": "quantitative", "axis": null}}},
      {"data": {"name": "ann"}, "transform": [{"filter": "datum.p == 'A3'"}], "mark": {"type": "text", "align": "right", "baseline": "top", "fontSize": 10.5, "color": "#555", "lineBreak": "\n", "lineHeight": 13},
       "encoding": {"x": {"datum": 6.8, "type": "quantitative", "axis": null}, "y": {"datum": 101, "type": "quantitative", "axis": null}, "text": {"field": "t"}}}
     ],
     "resolve": {"axis": {"x": "independent", "y": "independent"}}},
    {"width": 145, "height": 142,
     "layer": [
      {"data": {"name": "hist"}, "transform": [{"filter": "datum.p == 'A4' && datum.s == 'B'"}], "mark": {"type": "area", "color": "#e2e2e2"},
       "encoding": {"x": {"field": "x", "type": "quantitative", "scale": {"domain": [-0.6, 7], "nice": false, "zero": false}, "axis": {"orient": "bottom", "values": [0,1,2,3,4,5,6], "labelExpr": "datum.value % 2 == 0 ? '10' + ['⁰','¹','²','³','⁴','⁵','⁶'][datum.value] : ''", "labelFontSize": 5.5, "labelColor": "#555", "labelPadding": 2, "labelOverlap": false, "labelFlush": false, "tickSize": 3, "tickColor": "#333", "domainColor": "#333", "title": "Dihydrorhodamine", "titleFontSize": 11.5, "titleColor": "#444", "titlePadding": 13}},
                    "y": {"field": "y", "type": "quantitative", "scale": {"domain": [0, 105], "nice": false}, "axis": {"orient": "left", "values": [0,20,40,60,80,100], "labels": false, "tickSize": 3, "tickColor": "#333", "domainColor": "#333", "title": null}}}},
      {"data": {"name": "hist"}, "transform": [{"filter": "datum.p == 'A4' && datum.s == 'P'"}], "mark": {"type": "area", "color": "#b8b8b8", "stroke": "#8c8c8c", "strokeWidth": 0.6},
       "encoding": {"x": {"field": "x", "type": "quantitative", "axis": {"orient": "bottom", "values": [-0.523,-0.398,-0.301,-0.222,-0.155,-0.097,-0.046,0.301,0.477,0.602,0.699,0.778,0.845,0.903,0.954,1.301,1.477,1.602,1.699,1.778,1.845,1.903,1.954,2.301,2.477,2.602,2.699,2.778,2.845,2.903,2.954,3.301,3.477,3.602,3.699,3.778,3.845,3.903,3.954,4.301,4.477,4.602,4.699,4.778,4.845,4.903,4.954,5.301,5.477,5.602,5.699,5.778,5.845,5.903,5.954,6.301,6.477,6.602,6.699,6.778,6.845,6.903,6.954], "labels": false, "domain": false, "tickSize": 1.5, "tickColor": "#333", "title": null}},
                    "y": {"field": "y", "type": "quantitative", "axis": {"orient": "left", "values": [5,10,15,25,30,35,45,50,55,65,70,75,85,90,95], "labels": false, "domain": false, "tickSize": 1.5, "tickColor": "#333", "title": null}}}},
      {"data": {"name": "hist"}, "transform": [{"filter": "datum.p == 'A4' && datum.s == 'B'"}], "mark": {"type": "line", "color": "#2a2a2a", "strokeWidth": 1.1},
       "encoding": {"x": {"field": "x", "type": "quantitative", "axis": null}, "y": {"field": "y", "type": "quantitative", "axis": null}}},
      {"data": {"name": "ann"}, "transform": [{"filter": "datum.p == 'A4'"}], "mark": {"type": "text", "align": "right", "baseline": "top", "fontSize": 10.5, "color": "#555", "lineBreak": "\n", "lineHeight": 13},
       "encoding": {"x": {"datum": 6.8, "type": "quantitative", "axis": null}, "y": {"datum": 101, "type": "quantitative", "axis": null}, "text": {"field": "t"}}}
     ],
     "resolve": {"axis": {"x": "independent", "y": "independent"}}}
   ]},
   {"width": 143, "height": 142,
    "title": {"text": " ", "anchor": "start", "frame": "group", "dx": -36, "fontSize": 2, "offset": 0},
    "layer": [
      {"data": {"name": "hist"}, "transform": [{"filter": "datum.p == 'C2' && datum.s == 'B'"}], "mark": {"type": "area", "color": "#e2e2e2"},
       "encoding": {"x": {"field": "x", "type": "quantitative", "scale": {"domain": [-0.6, 7], "nice": false, "zero": false}, "axis": {"orient": "bottom", "values": [0,1,2,3,4,5,6], "labelExpr": "datum.value % 2 == 0 ? '10' + ['⁰','¹','²','³','⁴','⁵','⁶'][datum.value] : ''", "labelFontSize": 5.5, "labelColor": "#555", "labelPadding": 2, "labelOverlap": false, "labelFlush": false, "tickSize": 3, "tickColor": "#333", "domainColor": "#333", "title": "Dihydrorhodamine", "titleFontSize": 11.5, "titleColor": "#444", "titlePadding": 13}},
                    "y": {"field": "y", "type": "quantitative", "scale": {"domain": [0, 105], "nice": false}, "axis": {"orient": "left", "values": [0,20,40,60,80,100], "labelFontSize": 5, "labelColor": "#555", "labelPadding": 1.5, "labelOverlap": false, "tickSize": 3, "tickColor": "#333", "domainColor": "#333", "title": null}}}},
      {"data": {"name": "hist"}, "transform": [{"filter": "datum.p == 'C2' && datum.s == 'P'"}], "mark": {"type": "area", "color": "#b8b8b8", "stroke": "#8c8c8c", "strokeWidth": 0.6},
       "encoding": {"x": {"field": "x", "type": "quantitative", "axis": {"orient": "bottom", "values": [-0.523,-0.398,-0.301,-0.222,-0.155,-0.097,-0.046,0.301,0.477,0.602,0.699,0.778,0.845,0.903,0.954,1.301,1.477,1.602,1.699,1.778,1.845,1.903,1.954,2.301,2.477,2.602,2.699,2.778,2.845,2.903,2.954,3.301,3.477,3.602,3.699,3.778,3.845,3.903,3.954,4.301,4.477,4.602,4.699,4.778,4.845,4.903,4.954,5.301,5.477,5.602,5.699,5.778,5.845,5.903,5.954,6.301,6.477,6.602,6.699,6.778,6.845,6.903,6.954], "labels": false, "domain": false, "tickSize": 1.5, "tickColor": "#333", "title": null}},
                    "y": {"field": "y", "type": "quantitative", "axis": {"orient": "left", "values": [5,10,15,25,30,35,45,50,55,65,70,75,85,90,95], "labels": false, "domain": false, "tickSize": 1.5, "tickColor": "#333", "title": null}}}},
      {"data": {"name": "hist"}, "transform": [{"filter": "datum.p == 'C2' && datum.s == 'B'"}], "mark": {"type": "line", "color": "#2a2a2a", "strokeWidth": 1.1},
       "encoding": {"x": {"field": "x", "type": "quantitative", "axis": null}, "y": {"field": "y", "type": "quantitative", "axis": null}}},
      {"data": {"name": "ann"}, "transform": [{"filter": "datum.p == 'C2'"}], "mark": {"type": "text", "align": "right", "baseline": "top", "fontSize": 10.5, "color": "#555", "lineBreak": "\n", "lineHeight": 13},
       "encoding": {"x": {"datum": 6.8, "type": "quantitative", "axis": null}, "y": {"datum": 101, "type": "quantitative", "axis": null}, "text": {"field": "t"}}}
    ],
    "resolve": {"axis": {"x": "independent", "y": "independent"}}},
   {"width": 140, "height": 142,
    "title": {"text": " ", "anchor": "start", "frame": "group", "dx": -30, "fontSize": 2, "offset": 0},
    "layer": [
      {"data": {"name": "hist"}, "transform": [{"filter": "datum.p == 'E2' && datum.s == 'B'"}], "mark": {"type": "area", "color": "#e2e2e2"},
       "encoding": {"x": {"field": "x", "type": "quantitative", "scale": {"domain": [-0.6, 7], "nice": false, "zero": false}, "axis": {"orient": "bottom", "values": [0,1,2,3,4,5,6], "labelExpr": "datum.value % 2 == 0 ? '10' + ['⁰','¹','²','³','⁴','⁵','⁶'][datum.value] : ''", "labelFontSize": 5.5, "labelColor": "#555", "labelPadding": 2, "labelOverlap": false, "labelFlush": false, "tickSize": 3, "tickColor": "#333", "domainColor": "#333", "title": "Dihydrorhodamine", "titleFontSize": 11.5, "titleColor": "#444", "titlePadding": 13}},
                    "y": {"field": "y", "type": "quantitative", "scale": {"domain": [0, 105], "nice": false}, "axis": {"orient": "left", "values": [0,20,40,60,80,100], "labelFontSize": 5, "labelColor": "#555", "labelPadding": 1.5, "labelOverlap": false, "tickSize": 3, "tickColor": "#333", "domainColor": "#333", "title": null}}}},
      {"data": {"name": "hist"}, "transform": [{"filter": "datum.p == 'E2' && datum.s == 'P'"}], "mark": {"type": "area", "color": "#b8b8b8", "stroke": "#8c8c8c", "strokeWidth": 0.6},
       "encoding": {"x": {"field": "x", "type": "quantitative", "axis": {"orient": "bottom", "values": [-0.523,-0.398,-0.301,-0.222,-0.155,-0.097,-0.046,0.301,0.477,0.602,0.699,0.778,0.845,0.903,0.954,1.301,1.477,1.602,1.699,1.778,1.845,1.903,1.954,2.301,2.477,2.602,2.699,2.778,2.845,2.903,2.954,3.301,3.477,3.602,3.699,3.778,3.845,3.903,3.954,4.301,4.477,4.602,4.699,4.778,4.845,4.903,4.954,5.301,5.477,5.602,5.699,5.778,5.845,5.903,5.954,6.301,6.477,6.602,6.699,6.778,6.845,6.903,6.954], "labels": false, "domain": false, "tickSize": 1.5, "tickColor": "#333", "title": null}},
                    "y": {"field": "y", "type": "quantitative", "axis": {"orient": "left", "values": [5,10,15,25,30,35,45,50,55,65,70,75,85,90,95], "labels": false, "domain": false, "tickSize": 1.5, "tickColor": "#333", "title": null}}}},
      {"data": {"name": "hist"}, "transform": [{"filter": "datum.p == 'E2' && datum.s == 'B'"}], "mark": {"type": "line", "color": "#2a2a2a", "strokeWidth": 1.1},
       "encoding": {"x": {"field": "x", "type": "quantitative", "axis": null}, "y": {"field": "y", "type": "quantitative", "axis": null}}},
      {"data": {"name": "ann"}, "transform": [{"filter": "datum.p == 'E2'"}], "mark": {"type": "text", "align": "right", "baseline": "top", "fontSize": 10.5, "color": "#555", "lineBreak": "\n", "lineHeight": 13},
       "encoding": {"x": {"datum": 6.8, "type": "quantitative", "axis": null}, "y": {"datum": 101, "type": "quantitative", "axis": null}, "text": {"field": "t"}}}
    ],
    "resolve": {"axis": {"x": "independent", "y": "independent"}}}
  ]}
 ]},
 {"bounds": "flush", "spacing": 35, "hconcat": [
  {"width": 1, "height": 176, "view": {"stroke": null}, "data": {"values": []}, "mark": {"type": "point", "opacity": 0}, "encoding": {}},
  {"bounds": "flush", "spacing": 42, "hconcat": [
   {"width": 264, "height": 176, "view": {"stroke": null},
    "title": {"text": "B", "anchor": "start", "frame": "group", "dx": -82, "fontSize": 24, "baseline": "alphabetic", "offset": -17},
    "layer": [
     {"data": {"name": "dots"}, "transform": [{"filter": "datum.panel == 'B'"}], "mark": {"type": "point", "filled": true, "size": 48, "opacity": 1},
      "encoding": {
        "x": {"field": "grp", "type": "nominal", "scale": {"type": "band", "domain": ["U-WT", "U", "U-KO", "g1", "g2", "g3", "CLP-WT", "CLP", "CLP-KO"], "paddingInner": 0, "paddingOuter": 1},
              "axis": {"orient": "bottom", "values": ["U", "CLP"], "labelExpr": "datum.value == 'U' ? 'Unoperated' : 'CLP'", "labelAngle": 0, "labelFontSize": 12.5, "labelColor": "#222", "labelPadding": 29, "tickSize": 6, "tickWidth": 2, "tickColor": "#111", "domainWidth": 2, "domainColor": "#111", "title": null}},
        "xOffset": {"field": "rep", "type": "nominal", "scale": {"domain": [1, 2, 3, 4, 5], "paddingInner": 0, "paddingOuter": 0}},
        "y": {"field": "v", "type": "quantitative", "scale": {"domain": [-10, 40], "nice": false},
              "axis": {"orient": "left", "values": [-10, 0, 10, 20, 30, 40], "labelFontSize": 15, "labelColor": "#111", "labelPadding": 2, "tickSize": 5, "tickWidth": 2, "tickColor": "#111", "domainWidth": 2, "domainColor": "#111", "title": ["Chi-squared T(x) of", "PMA-stimulated vs Basal"], "titleFontSize": 15.5, "titleColor": "#111", "titleAnchor": "start", "titleLineHeight": 21, "titlePadding": -8}},
        "shape": {"field": "geno", "type": "nominal", "scale": {"domain": ["WT", "KO"], "range": ["circle", "square"]}, "legend": null},
        "color": {"field": "geno", "type": "nominal", "scale": {"domain": ["WT", "KO"], "range": ["#1a1a1a", "#8f8f8f"]}, "legend": null}}},
     {"data": {"name": "dots"}, "transform": [{"filter": "datum.panel == 'B'"}], "mark": {"type": "tick", "color": "#111", "thickness": 2, "size": 36},
      "encoding": {"x": {"field": "grp", "type": "nominal", "axis": {"orient": "bottom", "values": ["U-WT", "U-KO", "CLP-WT", "CLP-KO"], "labelExpr": "datum.value == 'U-WT' || datum.value == 'CLP-WT' ? 'WT' : 'S100A9⁻ᐟ⁻'", "labelAngle": 0, "labelFontSize": 12, "labelColor": "#222", "labelPadding": 14, "ticks": false, "tickSize": 0, "domain": false, "title": null}},
                   "y": {"field": "v", "aggregate": "mean", "type": "quantitative", "axis": null}}},
     {"data": {"name": "dots"}, "transform": [{"filter": "datum.panel == 'B'"}], "mark": {"type": "errorbar", "extent": "stderr", "color": "#111", "ticks": {"size": 19, "thickness": 2, "color": "#111"}, "rule": {"strokeWidth": 2, "color": "#111"}},
      "encoding": {"x": {"field": "grp", "type": "nominal", "axis": null}, "y": {"field": "v", "type": "quantitative", "axis": null}}},
     {"data": {"name": "sig"}, "transform": [{"filter": "datum.panel == 'B'"}], "mark": {"type": "rule", "color": "#111", "strokeWidth": 1.5},
      "encoding": {"x": {"field": "from", "type": "nominal", "axis": null}, "x2": {"field": "to"}, "y": {"datum": 38.7, "type": "quantitative", "axis": null}}},
     {"data": {"name": "sig"}, "transform": [{"filter": "datum.panel == 'B'"}], "mark": {"type": "text", "color": "#111", "fontSize": 13, "baseline": "alphabetic"},
      "encoding": {"x": {"field": "mid", "type": "nominal", "axis": null}, "y": {"datum": 38.0, "type": "quantitative", "axis": null}, "text": {"field": "sig"}}}
    ],
    "resolve": {"axis": {"x": "independent", "y": "independent"}}},
   {"bounds": "flush", "spacing": 15, "hconcat": [
    {"width": 179, "height": 176, "view": {"stroke": null},
     "title": {"text": "D", "anchor": "start", "frame": "group", "dx": -29, "fontSize": 24, "baseline": "alphabetic", "offset": -6},
     "layer": [
      {"data": {"name": "dots"}, "transform": [{"filter": "datum.panel == 'D'"}], "mark": {"type": "point", "filled": true, "size": 52, "opacity": 1},
       "encoding": {
         "x": {"field": "grp", "type": "nominal", "scale": {"type": "band", "domain": ["WT", "KO"], "paddingInner": 0, "paddingOuter": 0.467, "align": 0.184},
               "axis": {"orient": "bottom", "labelExpr": "datum.value == 'WT' ? 'WT' : 'S100A9⁻ᐟ⁻'", "labelAngle": 0, "labelFontSize": 12, "labelColor": "#222", "labelPadding": 8, "tickSize": 6, "tickWidth": 2, "tickColor": "#111", "domainWidth": 2, "domainColor": "#111", "title": null}},
         "y": {"field": "v", "type": "quantitative", "scale": {"domain": [-5, 62.25], "nice": false},
               "axis": {"orient": "left", "values": [0, 20, 40, 60], "labelFontSize": 15, "labelColor": "#111", "labelPadding": 2, "tickSize": 5, "tickWidth": 2, "tickColor": "#111", "domainWidth": 2, "domainColor": "#111", "title": null}},
         "shape": {"field": "geno", "type": "nominal", "scale": {"domain": ["WT", "KO"], "range": ["circle", "square"]}, "legend": null},
         "color": {"field": "geno", "type": "nominal", "scale": {"domain": ["WT", "KO"], "range": ["#1a1a1a", "#8f8f8f"]}, "legend": null}}},
      {"data": {"name": "dots"}, "transform": [{"filter": "datum.panel == 'D'"}], "mark": {"type": "tick", "color": "#111", "thickness": 2, "size": 46},
       "encoding": {"x": {"field": "grp", "type": "nominal", "axis": null}, "y": {"field": "v", "aggregate": "mean", "type": "quantitative", "axis": null}}},
      {"data": {"name": "dots"}, "transform": [{"filter": "datum.panel == 'D'"}], "mark": {"type": "errorbar", "extent": "stderr", "color": "#111", "ticks": {"size": 22, "thickness": 2, "color": "#111"}, "rule": {"strokeWidth": 2, "color": "#111"}},
       "encoding": {"x": {"field": "grp", "type": "nominal", "axis": null}, "y": {"field": "v", "type": "quantitative", "axis": null}}},
      {"data": {"name": "sig"}, "transform": [{"filter": "datum.panel == 'D'"}], "mark": {"type": "rule", "color": "#111", "strokeWidth": 1.5},
       "encoding": {"x": {"field": "from", "type": "nominal", "axis": null}, "x2": {"field": "to"}, "y": {"datum": 58.6, "type": "quantitative", "axis": null}}},
      {"data": {"name": "sig"}, "transform": [{"filter": "datum.panel == 'D'"}], "mark": {"type": "text", "color": "#111", "fontSize": 15, "baseline": "alphabetic"},
       "encoding": {"x": {"field": "from", "type": "nominal", "bandPosition": 1, "axis": null}, "y": {"datum": 56.6, "type": "quantitative", "axis": null}, "text": {"field": "sig"}}}
     ],
     "resolve": {"axis": {"x": "independent", "y": "independent"}}},
    {"width": 145, "height": 176, "view": {"stroke": null},
     "title": {"text": "F", "anchor": "start", "frame": "group", "dx": -30, "fontSize": 24, "baseline": "alphabetic", "offset": -6},
     "layer": [
      {"data": {"name": "dots"}, "transform": [{"filter": "datum.panel == 'F'"}], "mark": {"type": "point", "filled": true, "size": 52, "opacity": 1},
       "encoding": {
         "x": {"field": "grp", "type": "nominal", "scale": {"type": "band", "domain": ["WT", "KO"], "paddingInner": 0.52, "paddingOuter": 0.43},
               "axis": {"orient": "bottom", "labelExpr": "datum.value == 'WT' ? 'WT' : 'S100A9⁻ᐟ⁻'", "labelAngle": 0, "labelFontSize": 12, "labelColor": "#222", "labelPadding": 8, "tickSize": 6, "tickWidth": 2, "tickColor": "#111", "domainWidth": 2, "domainColor": "#111", "title": null}},
         "xOffset": {"field": "rep", "type": "nominal", "scale": {"domain": [1, 2, 3], "paddingInner": 0, "paddingOuter": 0}},
         "y": {"field": "v", "type": "quantitative", "scale": {"domain": [-5, 62.25], "nice": false},
               "axis": {"orient": "left", "values": [0, 20, 40, 60], "labelFontSize": 15, "labelColor": "#111", "labelPadding": 2, "tickSize": 5, "tickWidth": 2, "tickColor": "#111", "domainWidth": 2, "domainColor": "#111", "title": null}},
         "shape": {"field": "geno", "type": "nominal", "scale": {"domain": ["WT", "KO"], "range": ["circle", "square"]}, "legend": null},
         "color": {"field": "geno", "type": "nominal", "scale": {"domain": ["WT", "KO"], "range": ["#1a1a1a", "#8f8f8f"]}, "legend": null}}},
      {"data": {"name": "dots"}, "transform": [{"filter": "datum.panel == 'F'"}], "mark": {"type": "tick", "color": "#111", "thickness": 2, "size": 45},
       "encoding": {"x": {"field": "grp", "type": "nominal", "axis": null}, "y": {"field": "v", "aggregate": "mean", "type": "quantitative", "axis": null}}}
     ],
     "resolve": {"axis": {"x": "independent", "y": "independent"}}}
   ]}
  ]}
 ]}
]
}
